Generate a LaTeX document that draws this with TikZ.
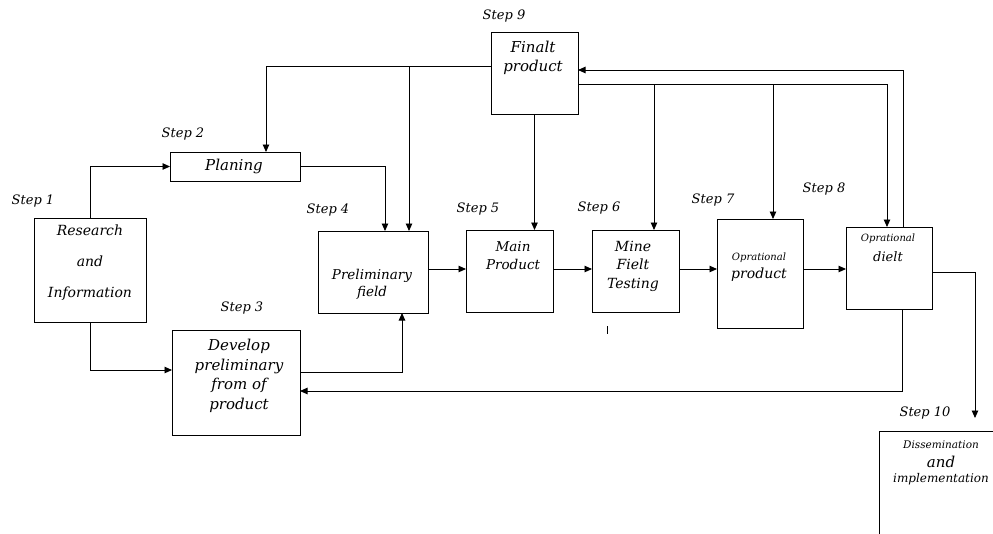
\documentclass[tikz,border=0pt]{standalone}
\usepackage{fontspec}
\setmainfont{DejaVu Serif}
\usetikzlibrary{arrows.meta}
\begin{document}
\begin{tikzpicture}[x=1pt,y=-1pt,
  box/.style={draw, line width=0.9pt, inner sep=0pt, outer sep=0pt},
  arr/.style={line width=0.9pt, -{Triangle[length=7.5pt,width=6.5pt]}},
  ln/.style={line width=0.9pt},
  steplbl/.style={inner sep=0pt, font=\fontsize{13}{15}\selectfont\itshape},
  txt/.style={inner sep=0pt, align=center, font=\fontsize{14}{17}\selectfont\itshape},
]
\useasboundingbox (0,0) rectangle (993,533);
\clip (0,0) rectangle (993,533);
% boxes
\node[box, minimum width=112pt, minimum height=104pt] (ri) at (90,270) {};
\node[box, minimum width=130pt, minimum height=29pt] (pl) at (235,166.5) {};
\node[box, minimum width=128pt, minimum height=105pt] (dev) at (236,382.5) {};
\node[box, minimum width=110pt, minimum height=82pt] (pf) at (373,272) {};
\node[box, minimum width=87pt, minimum height=82pt] (mp) at (509.5,271) {};
\node[box, minimum width=87pt, minimum height=82pt] (mf) at (635.5,271) {};
\node[box, minimum width=87pt, minimum height=82pt] (fp) at (534.5,73) {};
\node[box, minimum width=86pt, minimum height=109pt] (op) at (760,273.5) {};
\node[box, minimum width=86pt, minimum height=82pt] (od) at (889,268) {};
\node[box, minimum width=140pt, minimum height=140pt] (dis) at (949,501) {};
% texts
\node[txt, font=\fontsize{14}{31}\selectfont\itshape] (tri) at (90,263) {Research\\and\\Information};
\node[txt, font=\fontsize{15}{17}\selectfont\itshape] (tpl) at (234,166.5) {Planing};
\node[txt, font=\fontsize{15}{19.5}\selectfont\itshape] (tdev) at (239,376) {Develop\\preliminary\\from of\\product};
\node[txt, font=\fontsize{13.5}{17}\selectfont\itshape] (tpf) at (372,284.5) {Preliminary\\field};
\node[txt, font=\fontsize{13.5}{18}\selectfont\itshape] (tmp) at (513,256) {Main\\Product};
\node[txt, font=\fontsize{14}{18.5}\selectfont\itshape] (tmf) at (633,266) {Mine\\Fielt\\Testing};
\node[txt, font=\fontsize{15}{19}\selectfont\itshape] (tfp) at (533,57.5) {Finalt\\product};
\node[txt, font=\fontsize{10}{11}\selectfont\itshape] (top1) at (759,258) {Oprational};
\node[txt, font=\fontsize{14}{16}\selectfont\itshape] (top2) at (759,275) {product};
\node[txt, font=\fontsize{10}{11}\selectfont\itshape] (tod1) at (888,239) {Oprational};
\node[txt, font=\fontsize{13}{16}\selectfont\itshape] (tod2) at (888,257) {dielt};
\node[txt, font=\fontsize{10.5}{12}\selectfont\itshape] (tdis1) at (941,445) {Dissemination};
\node[txt, font=\fontsize{15}{17}\selectfont\itshape] (tdis2) at (941,462) {and};
\node[txt, font=\fontsize{12}{14}\selectfont\itshape] (tdis3) at (941,479) {implementation};
% step labels
\node[steplbl] (s1) at (33,201) {Step 1};
\node[steplbl] (s2) at (183,134) {Step 2};
\node[steplbl] (s3) at (242,308) {Step 3};
\node[steplbl] (s4) at (328,210) {Step 4};
\node[steplbl] (s5) at (478,209) {Step 5};
\node[steplbl] (s6) at (599,208) {Step 6};
\node[steplbl] (s7) at (713,200) {Step 7};
\node[steplbl] (s8) at (824,189) {Step 8};
\node[steplbl] (s9) at (504,16) {Step 9};
\node[steplbl] (s10) at (925,413) {Step 10};
% helper coordinates
\coordinate (h) at (0,269);
\coordinate (h2) at (0,272);
\coordinate (j1) at (409,66);
\coordinate (j2) at (654,84);
\coordinate (j3) at (773,84);
\coordinate (e10) at (975,418);
\coordinate (tk1) at (607,326);
\coordinate (tk2) at (607,334);
% connectors
\draw[arr] (ri.north) |- (pl.west);
\draw[arr] (ri.south) |- ([yshift=12.5pt]dev.west);
\draw[arr] (pl.east) -| ([xshift=12pt]pf.north);
\draw[arr] ([yshift=7pt]fp.west) -| ([xshift=31pt]pl.north);
\draw[arr] (j1) -- (j1 |- pf.north);
\draw[arr] (fp.south) -- (fp.south |- mp.north);
\draw[arr] ([yshift=-11pt]fp.east) -| ([xshift=-2pt]od.north);
\draw[arr] (j2) -- (j2 |- mf.north);
\draw[arr] (j3) -- (j3 |- op.north);
\draw[arr] ([xshift=14pt]od.north) |- ([yshift=3pt]fp.east);
\draw[arr] ([xshift=13pt]od.south) |- ([yshift=-8.5pt]dev.east);
\draw[arr] ([yshift=10.5pt]dev.east) -| ([xshift=29pt]pf.south);
\draw[arr] (pf.east |- h) -- (mp.west |- h);
\draw[arr] (mp.east |- h) -- (mf.west |- h);
\draw[arr] (mf.east |- h) -- (op.west |- h);
\draw[arr] (op.east |- h) -- (od.west |- h);
\draw[arr] (od.east |- h2) -| (e10);
\draw[ln] (tk1) -- (tk2);
\end{tikzpicture}
\end{document}
